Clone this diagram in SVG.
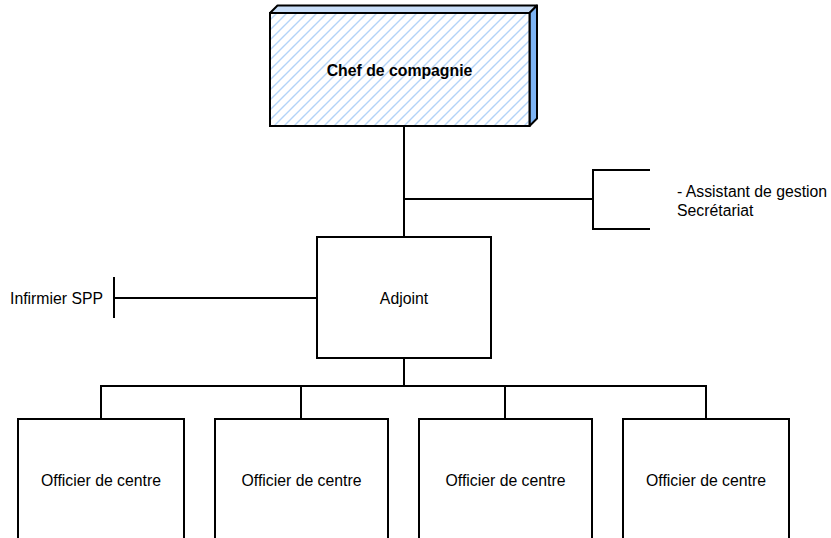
<svg xmlns="http://www.w3.org/2000/svg" width="831" height="538" viewBox="0 0 831 538">
<style>
.box{fill:#ffffff;stroke:#000000;stroke-width:2}
.ln{fill:none;stroke:#000000;stroke-width:2}
.t{font-family:"Liberation Sans",Arial,sans-serif;font-size:15.8px;fill:#000000}
.b{font-weight:bold}
</style>
<defs>
<pattern id="hatch" patternUnits="userSpaceOnUse" width="10" height="10">
<rect width="10" height="10" fill="#ffffff"/>
<path d="M-1,11 L11,-1 M-2,2 L2,-2 M8,12 L12,8" stroke="#b3d3f8" stroke-width="1.4"/>
</pattern>
</defs>
<g id="connectors">
<path class="ln" d="M404,126 V237"/>
<path class="ln" d="M404,199 H593"/>
<path class="ln" d="M650,170 H593 V229 H650"/>
<path class="ln" d="M114,298 H317"/>
<path class="ln" d="M114,277 V318"/>
<path class="ln" d="M404,358 V386"/>
<path class="ln" d="M101,419 V386 H706 V419"/>
<path class="ln" d="M301,386 V419"/>
<path class="ln" d="M505,386 V419"/>
</g>
<g id="chef">
<polygon points="270,13 277.5,5.5 537,5.5 529.5,13" fill="#c9def8" stroke="#000" stroke-width="2" stroke-linejoin="round"/>
<polygon points="529.5,13 537,5.5 537,118.5 529.5,126" fill="#7db3f2" stroke="#000" stroke-width="2" stroke-linejoin="round"/>
<rect x="270" y="13" width="259.5" height="113" fill="url(#hatch)" stroke="#000" stroke-width="2"/>
<text class="t b" x="399.5" y="76" text-anchor="middle">Chef de compagnie</text>
</g>
<g id="assistant">
<text class="t" x="677" y="197">- Assistant de gestion</text>
<text class="t" x="677" y="216">Secrétariat</text>
</g>
<g id="infirmier">
<text class="t" x="10" y="304">Infirmier SPP</text>
</g>
<g id="adjoint">
<rect class="box" x="317" y="237" width="174" height="121"/>
<text class="t" x="404" y="304" text-anchor="middle">Adjoint</text>
</g>
<g id="officier1">
<rect class="box" x="18" y="419" width="166" height="130"/>
<text class="t" x="101" y="486" text-anchor="middle">Officier de centre</text>
</g>
<g id="officier2">
<rect class="box" x="215" y="419" width="173" height="130"/>
<text class="t" x="301.5" y="486" text-anchor="middle">Officier de centre</text>
</g>
<g id="officier3">
<rect class="box" x="419" y="419" width="173" height="130"/>
<text class="t" x="505.5" y="486" text-anchor="middle">Officier de centre</text>
</g>
<g id="officier4">
<rect class="box" x="623" y="419" width="166" height="130"/>
<text class="t" x="706" y="486" text-anchor="middle">Officier de centre</text>
</g>
</svg>
